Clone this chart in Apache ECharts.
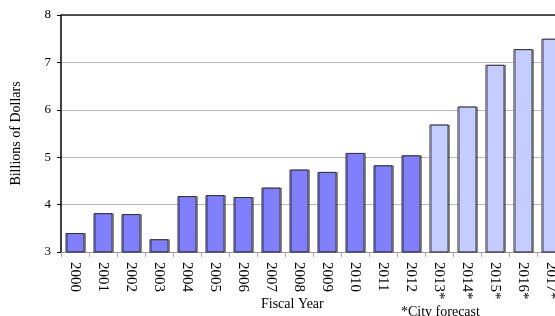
<!DOCTYPE html>
<html>
<head>
<meta charset="utf-8">
<script src="https://cdn.jsdelivr.net/npm/echarts@6/dist/echarts.min.js"></script>
<style>
  html, body { margin: 0; padding: 0; background: #fff; }
  #chart { width: 555px; height: 316px; }
</style>
</head>
<body>
<div id="chart"></div>
<script>
const years = ['2000', '2001', '2002', '2003', '2004', '2005', '2006', '2007', '2008',
  '2009', '2010', '2011', '2012', '2013*', '2014*', '2015*', '2016*', '2017*']
const actual = [3.40, 3.82, 3.80, 3.27, 4.18, 4.20, 4.16, 4.36, 4.74, 4.69, 5.09, 4.83, 5.04]
const forecast = [5.69, 6.07, 6.95, 7.28, 7.50]

const serif = '"Liberation Serif", "DejaVu Serif", serif'

const barData = years.map((y, i) => {
  const isForecast = i >= actual.length
  return {
    value: isForecast ? forecast[i - actual.length] : actual[i],
    itemStyle: { color: isForecast ? '#c5ccff' : '#8080ff' }
  }
})

const chart = echarts.init(document.getElementById('chart'))
chart.setOption({
  animation: false,
  grid: { left: 61, top: 15, width: 504, height: 237, outerBoundsMode: 'none', containLabel: false },
  xAxis: {
    type: 'category',
    data: years,
    axisLine: { show: true, lineStyle: { color: '#999' } },
    axisTick: { show: true, length: 5, lineStyle: { color: '#aaa' } },
    axisLabel: { rotate: -90, margin: 10, fontFamily: serif, fontSize: 15, color: '#000' }
  },
  yAxis: {
    type: 'value',
    min: 3,
    max: 8,
    interval: 1,
    name: 'Billions of Dollars',
    nameLocation: 'middle',
    nameGap: 38,
    nameTextStyle: { fontFamily: serif, fontSize: 14, color: '#000' },
    axisLine: { show: true, lineStyle: { color: '#000', width: 1.5 } },
    axisTick: { show: true, length: 4, lineStyle: { color: '#000' } },
    axisLabel: { margin: 10, fontFamily: serif, fontSize: 13, color: '#000' },
    splitLine: { lineStyle: { color: '#bbb' } }
  },
  series: [{
    type: 'bar',
    data: barData,
    barCategoryGap: '32%',
    itemStyle: {
      borderColor: '#333',
      borderWidth: 1,
      shadowColor: 'rgba(0,0,0,0.35)',
      shadowOffsetX: 1.5,
      shadowOffsetY: 0
    },
    z: 3
  }],
  graphic: [
    { type: 'line', shape: { x1: 61, y1: 15, x2: 555, y2: 15 }, style: { stroke: '#222', lineWidth: 1.5 }, z: 10 },
    { type: 'text', left: 261, top: 297, style: { text: 'Fiscal Year', font: '14px ' + serif, fill: '#000' } },
    { type: 'text', left: 401, top: 305, style: { text: '*City forecast', font: '14px ' + serif, fill: '#000' } }
  ]
})
</script>
</body>
</html>
